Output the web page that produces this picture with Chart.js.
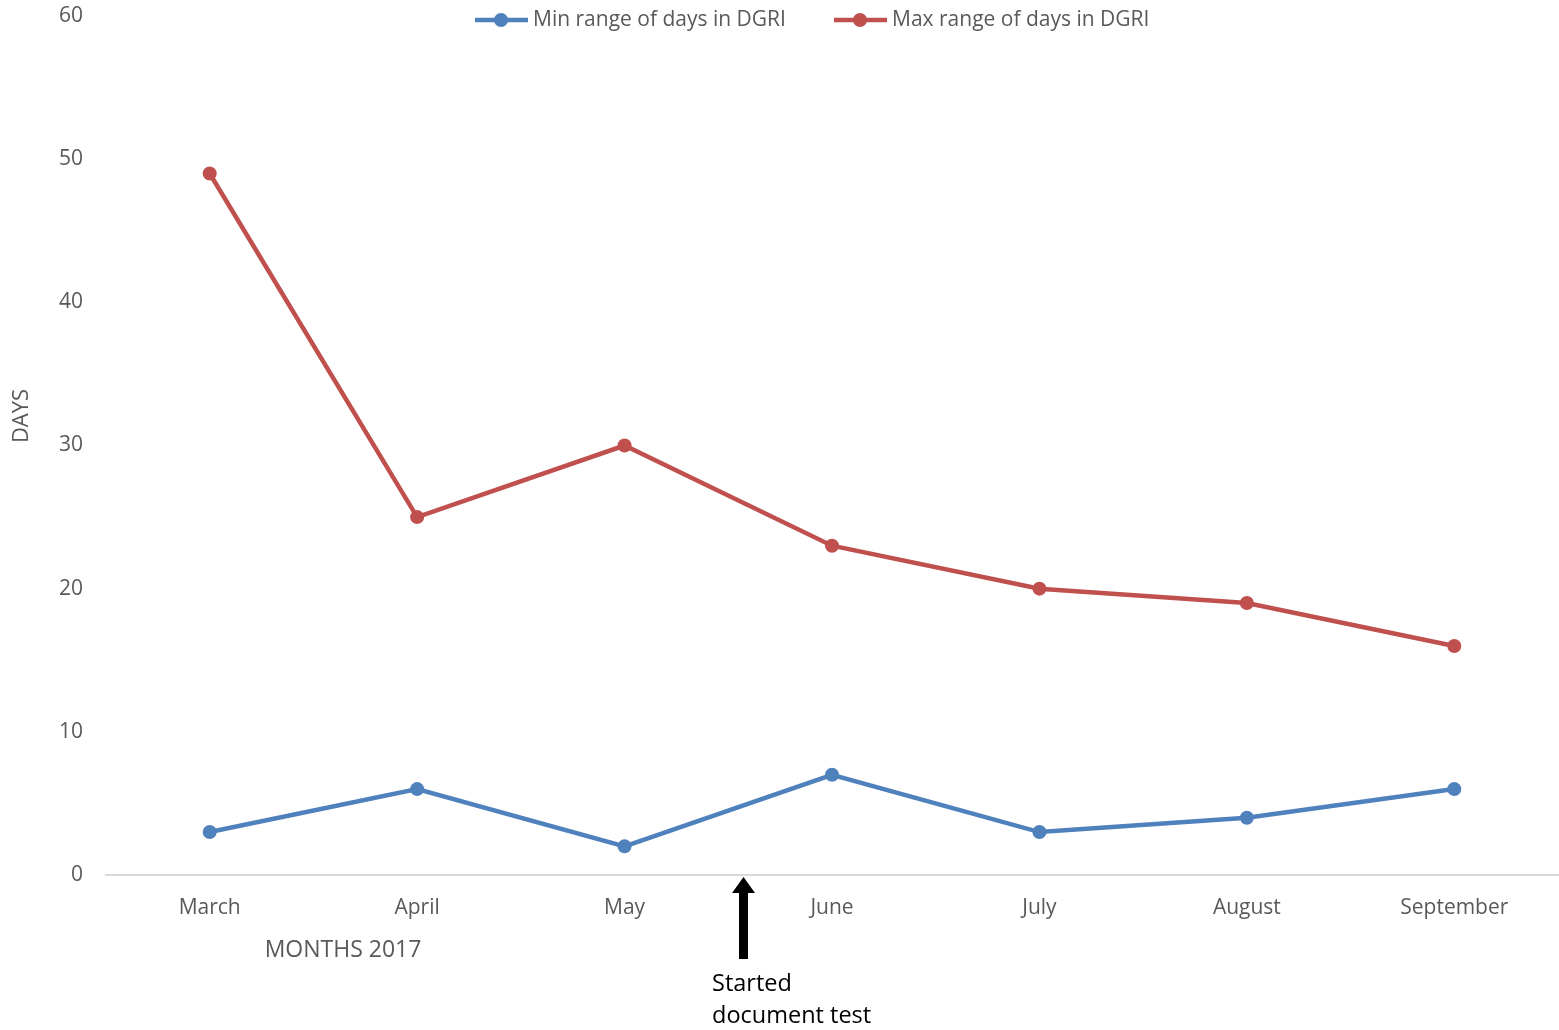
<!DOCTYPE html>
<html>
<head>
<meta charset="utf-8">
<script src="https://cdn.jsdelivr.net/npm/chart.js@4"></script>
<style>
  html, body { margin: 0; padding: 0; background: #fff; }
  canvas { display: block; }
</style>
</head>
<body>
<canvas id="daysChart" width="1559" height="1030"></canvas>
<script>
const months = ["March", "April", "May", "June", "July", "August", "September"];
const minDays = [3, 6, 2, 7, 3, 4, 6];
const maxDays = [49, 25, 30, 23, 20, 19, 16];
const yTicks = [0, 10, 20, 30, 40, 50, 60];

const FONT = "'Open Sans', 'Noto Sans', sans-serif";
const GREY = "#595959";

// legend, axis titles and the arrow note, drawn by hand
const extras = {
  id: "extras",
  afterDraw(chart) {
    const ctx = chart.ctx;
    ctx.save();

    // legend inside the plot top
    const items = [
      { x: 475, ds: chart.data.datasets[0] },
      { x: 834, ds: chart.data.datasets[1] },
    ];
    ctx.font = "21px " + FONT;
    ctx.textBaseline = "middle";
    ctx.textAlign = "left";
    items.forEach((it) => {
      ctx.strokeStyle = it.ds.borderColor;
      ctx.lineWidth = 4.5;
      ctx.beginPath();
      ctx.moveTo(it.x, 20);
      ctx.lineTo(it.x + 53, 20);
      ctx.stroke();
      ctx.fillStyle = it.ds.borderColor;
      ctx.beginPath();
      ctx.arc(it.x + 26, 20, 7, 0, Math.PI * 2);
      ctx.fill();
      ctx.fillStyle = GREY;
      ctx.fillText(it.ds.label, it.x + 58, 20);
    });

    // y title
    ctx.save();
    ctx.translate(22, 416);
    ctx.rotate(-Math.PI / 2);
    ctx.textAlign = "center";
    ctx.fillStyle = GREY;
    ctx.font = "22px " + FONT;
    ctx.fillText("DAYS", 0, 0);
    ctx.restore();

    // x title
    ctx.textAlign = "center";
    ctx.fillStyle = GREY;
    ctx.font = "23px " + FONT;
    ctx.fillText("MONTHS 2017", 343, 950);

    // arrow
    ctx.fillStyle = "#000";
    ctx.fillRect(739, 892, 9, 67);
    ctx.beginPath();
    ctx.moveTo(732, 893);
    ctx.lineTo(743.5, 877);
    ctx.lineTo(755, 893);
    ctx.closePath();
    ctx.fill();

    ctx.textAlign = "left";
    ctx.font = "23.5px " + FONT;
    ctx.fillText("Started", 712, 984);
    ctx.fillText("document test", 712, 1016);

    ctx.restore();
  },
};

const ctx = document.getElementById("daysChart").getContext("2d");
const daysChart = new Chart(ctx, {
  type: "line",
  data: {
    labels: months,
    datasets: [
      {
        label: "Min range of days in DGRI",
        data: minDays,
        borderColor: "#4F81BD",
        backgroundColor: "#4F81BD",
        borderWidth: 4.5,
        pointRadius: 7,
        pointBorderWidth: 0,
        tension: 0,
      },
      {
        label: "Max range of days in DGRI",
        data: maxDays,
        borderColor: "#C0504D",
        backgroundColor: "#C0504D",
        borderWidth: 4.5,
        pointRadius: 7,
        pointBorderWidth: 0,
        tension: 0,
      },
    ],
  },
  options: {
    responsive: false,
    animation: false,
    devicePixelRatio: 1,
    layout: { autoPadding: false, padding: { top: 16, right: 1, left: 0, bottom: 0 } },
    plugins: {
      legend: { display: false },
      tooltip: { enabled: false },
    },
    scales: {
      x: {
        offset: true,
        grid: { display: false, drawTicks: false },
        border: { display: true, color: "#D9D9D9", width: 2 },
        ticks: {
          color: GREY,
          font: { family: FONT, size: 21 },
          padding: 20,
          maxRotation: 0,
          autoSkip: false,
        },
        afterFit(scale) {
          scale.height = 155;
          scale.paddingLeft = 0;
          scale.paddingRight = 0;
        },
      },
      y: {
        min: 0,
        max: 60,
        grid: { display: false, drawTicks: false },
        border: { display: false },
        afterBuildTicks(scale) { scale.ticks = yTicks.map((v) => ({ value: v })); },
        ticks: {
          color: GREY,
          font: { family: FONT, size: 21 },
          padding: 23,
        },
        afterFit(scale) {
          scale.width = 106;
          scale.paddingTop = 0;
          scale.paddingBottom = 0;
        },
      },
    },
  },
  plugins: [extras],
});
</script>
</body>
</html>
